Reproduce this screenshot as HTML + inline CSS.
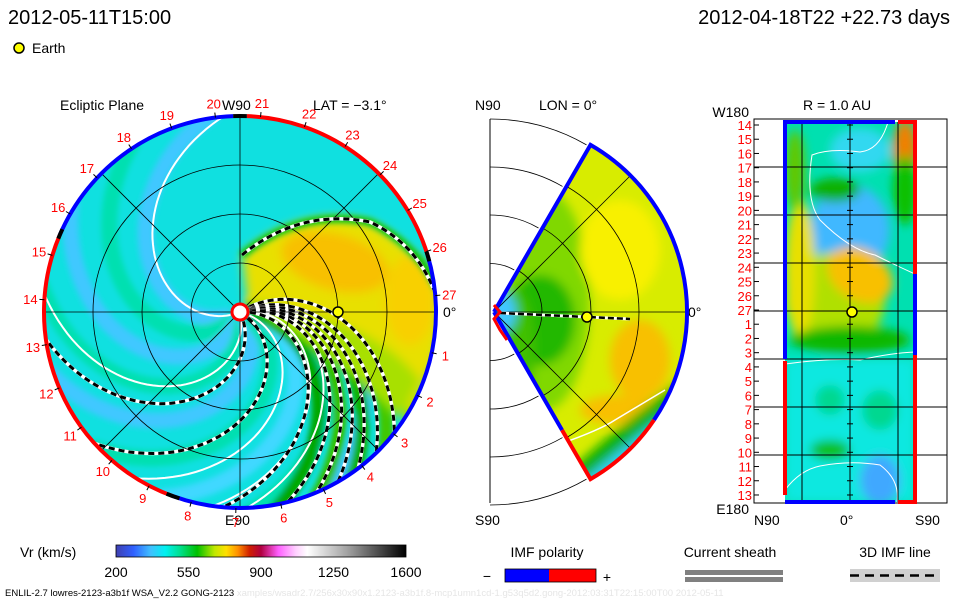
<!DOCTYPE html>
<html><head><meta charset="utf-8"><style>
html,body{margin:0;padding:0;background:#fff;}
svg{display:block;font-family:"Liberation Sans",sans-serif;}
</style></head><body>
<svg id="c" width="960" height="600" viewBox="0 0 960 600">
<defs>
<filter id="bl" x="-20%" y="-20%" width="140%" height="140%"><feGaussianBlur stdDeviation="5"/></filter>
<filter id="bl2" x="-20%" y="-20%" width="140%" height="140%"><feGaussianBlur stdDeviation="3"/></filter>
<clipPath id="disc"><circle cx="240" cy="312" r="196"/></clipPath>
<clipPath id="wedge"><path d="M494,312 L590.5,144.9 A193,193 0 0 1 590.5,479.1 Z"/></clipPath>
<clipPath id="rect"><rect x="785" y="122" width="130" height="380"/></clipPath>
<linearGradient id="cb" x1="0" x2="1" y1="0" y2="0">
<stop offset="0" stop-color="#4040b0"/><stop offset="0.06" stop-color="#3060ff"/><stop offset="0.12" stop-color="#40c0ff"/>
<stop offset="0.17" stop-color="#00f0f0"/><stop offset="0.22" stop-color="#00e090"/><stop offset="0.28" stop-color="#00c000"/>
<stop offset="0.34" stop-color="#c0e800"/><stop offset="0.38" stop-color="#ffe000"/><stop offset="0.42" stop-color="#ff9000"/>
<stop offset="0.46" stop-color="#d02000"/><stop offset="0.5" stop-color="#b00040"/><stop offset="0.56" stop-color="#ff60ff"/>
<stop offset="0.62" stop-color="#ffd0ff"/><stop offset="0.66" stop-color="#ffffff"/><stop offset="0.8" stop-color="#a0a0a0"/>
<stop offset="1" stop-color="#000000"/></linearGradient>
</defs>

<text x="8" y="24" font-size="20">2012-05-11T15:00</text>
<text x="950" y="24" font-size="20" text-anchor="end">2012-04-18T22 +22.73 days</text>
<circle cx="19" cy="48" r="5" fill="#ffff00" stroke="#000" stroke-width="1.5"/>
<text x="32" y="53" font-size="14">Earth</text>

<!-- main panel -->
<g>
<text x="60" y="110" font-size="14">Ecliptic Plane</text>
<text x="222" y="110" font-size="14">W90</text>
<text x="313" y="110" font-size="14">LAT = −3.1°</text>
<text x="225" y="525" font-size="14">E90</text>
<text x="443" y="317" font-size="14">0°</text>
<g clip-path="url(#disc)">
<circle cx="240" cy="312" r="196" fill="#10e0e0"/>
<g id="swirl" filter="url(#bl2)"></g>
<g filter="url(#bl)">
<path d="M248,305 L242,255 Q300,205 370,222 Q415,245 440,290 L440,340 Q432,380 410,410 L330,320 Z" fill="#e8e000"/>
<ellipse cx="335" cy="262" rx="55" ry="28" fill="#f8c000" transform="rotate(15 335 262)"/>
<ellipse cx="410" cy="300" rx="25" ry="45" fill="#f8d000"/>
<path d="M255,300 Q300,310 330,320 Q390,340 420,380 L400,420 Q340,360 270,320 Z" fill="#a8e000"/>
</g>
<path d="M242,255 Q300,208 370,222 Q415,243 438,288" fill="none" stroke="#00c000" stroke-width="7" filter="url(#bl2)"/>
<g id="lines"></g>
</g>
<g id="grid" fill="none" stroke="#000" stroke-width="0.8"></g>
<path d="M242,255 Q300,208 370,222 Q415,243 434,290" fill="none" stroke="#fff" stroke-width="3.5"/>
<path d="M242,255 Q300,208 370,222 Q415,243 434,290" fill="none" stroke="#000" stroke-width="3" stroke-dasharray="6,4"/>
<g id="rim"></g>
<circle cx="240" cy="312" r="8" fill="#fff" stroke="#f00" stroke-width="3"/>
<circle cx="338" cy="312" r="5" fill="#ffff00" stroke="#000" stroke-width="1.5"/>
<g id="days" font-size="13" fill="#f00"></g>
</g>

<!-- middle panel -->
<g>
<text x="475" y="110" font-size="14">N90</text>
<text x="539" y="110" font-size="14">LON = 0°</text>
<text x="475" y="525" font-size="14">S90</text>
<text x="688" y="317" font-size="14">0°</text>
<polyline points="490,119 490,503" stroke="#000" fill="none"/>
<g id="mgrid" fill="none" stroke="#000" stroke-width="0.8"></g>
<g clip-path="url(#wedge)">
<rect x="480" y="130" width="220" height="360" fill="#d8ec00"/>
<g filter="url(#bl)">
<ellipse cx="545" cy="300" rx="45" ry="110" fill="#80d800"/>
<ellipse cx="540" cy="320" rx="35" ry="45" fill="#20b800"/>
<ellipse cx="515" cy="350" rx="20" ry="60" fill="#40c000"/>
<ellipse cx="502" cy="312" rx="14" ry="20" fill="#40c8ff"/>
<ellipse cx="620" cy="250" rx="40" ry="50" fill="#f8f000"/>
<ellipse cx="640" cy="360" rx="30" ry="40" fill="#f8c000"/>
<ellipse cx="620" cy="410" rx="40" ry="15" fill="#f8c000"/>
<path d="M550,490 Q600,440 680,380 L690,500 Z" fill="#10b000"/>
<path d="M560,500 Q610,455 690,395 L690,500 Z" fill="#30d0f0"/>
</g>
<path d="M560,444 Q600,430 615,420 Q640,405 665,390" stroke="#fff" fill="none" stroke-width="1.5"/>
<g fill="none" stroke="#000" stroke-width="0.8">
<path d="M494,312 L690,312"/><path d="M494,312 L630,176"/><path d="M494,312 L630,448"/>
<circle cx="494" cy="312" r="48"/><circle cx="494" cy="312" r="97"/><circle cx="494" cy="312" r="145"/>
</g>
</g>
<path d="M500,313 L587,317 L630,319" stroke="#fff" stroke-width="3" fill="none"/>
<path d="M500,313 L587,317 L630,319" stroke="#000" stroke-width="2.5" stroke-dasharray="6,3" fill="none"/>
<path d="M494,312 L590.5,144.9 A193,193 0 0 1 654,420" fill="none" stroke="#0000ff" stroke-width="4"/>
<path d="M654,420 A193,193 0 0 1 590.5,479.1 L562,430" fill="none" stroke="#ff0000" stroke-width="4"/>
<path d="M562,430 L494,312" fill="none" stroke="#0000ff" stroke-width="4"/>
<path d="M494,305 L500,312 L494,319 L500,330 L507,340" fill="none" stroke="#ff0000" stroke-width="3"/>
<circle cx="587" cy="317" r="5" fill="#ffff00" stroke="#000" stroke-width="1.5"/>
</g>

<!-- right panel -->
<g>
<text x="803" y="110" font-size="14">R = 1.0 AU</text>
<text x="749" y="117" font-size="14" text-anchor="end">W180</text>
<text x="749" y="514" font-size="14" text-anchor="end">E180</text>
<text x="754" y="525" font-size="14">N90</text>
<text x="840" y="525" font-size="14">0°</text>
<text x="915" y="525" font-size="14">S90</text>
<rect x="754" y="119" width="193" height="384" fill="none" stroke="#000"/>
<g clip-path="url(#rect)">
<rect x="785" y="122" width="130" height="380" fill="#00e0b0"/>
<g filter="url(#bl)">
<rect x="785" y="359" width="130" height="143" fill="#10e8e0"/>
<ellipse cx="850" cy="230" rx="40" ry="45" fill="#40b8ff"/>
<ellipse cx="860" cy="150" rx="30" ry="22" fill="#30d8f0"/>
<ellipse cx="835" cy="300" rx="50" ry="48" fill="#b0e000"/>
<ellipse cx="860" cy="275" rx="35" ry="25" fill="#f8c000" transform="rotate(30 860 275)"/>
<ellipse cx="800" cy="270" rx="15" ry="70" fill="#e8e000"/>
<ellipse cx="850" cy="340" rx="60" ry="14" fill="#10b800"/>
<ellipse cx="905" cy="150" rx="12" ry="30" fill="#f08000"/>
<ellipse cx="795" cy="170" rx="10" ry="40" fill="#60c800"/>
<ellipse cx="835" cy="190" rx="25" ry="12" fill="#10b000"/>
<ellipse cx="880" cy="480" rx="20" ry="25" fill="#40a8ff"/>
<ellipse cx="905" cy="190" rx="12" ry="35" fill="#10c000"/>
<ellipse cx="830" cy="450" rx="20" ry="10" fill="#10c000"/>
<ellipse cx="830" cy="400" rx="15" ry="15" fill="#00d890"/>
<ellipse cx="880" cy="410" rx="18" ry="20" fill="#00d890"/>
</g>
<path d="M785,364 Q830,358 860,360 Q890,353 915,352" stroke="#fff" fill="none" stroke-width="1"/>
<path d="M785,490 Q800,470 820,466 Q850,460 880,465 Q900,480 897,502" stroke="#fff" fill="none" stroke-width="1"/>
<path d="M888,122 Q880,150 860,152 Q830,148 812,155 Q805,200 820,220 Q850,250 875,255 Q895,265 915,274" stroke="#fff" fill="none" stroke-width="1"/>
</g>
<g id="rgrid" stroke="#000" stroke-width="1" fill="none"></g>
<g id="rdays" font-size="13" fill="#f00"></g>
<path d="M785,359 L785,122 L895,122" fill="none" stroke="#0000ff" stroke-width="4"/>
<path d="M898,122 L915,122 L915,274" fill="none" stroke="#ff0000" stroke-width="4"/>
<path d="M915,274 L915,355" fill="none" stroke="#0000ff" stroke-width="4"/>
<path d="M915,355 L915,502 L898,502" fill="none" stroke="#ff0000" stroke-width="4"/>
<path d="M895,502 L785,502" fill="none" stroke="#0000ff" stroke-width="4"/>
<path d="M785,361 L785,495" fill="none" stroke="#ff0000" stroke-width="4"/>
<circle cx="852" cy="312" r="5" fill="#ffff00" stroke="#000" stroke-width="1.5"/>
</g>

<!-- legends -->
<g>
<text x="20" y="557" font-size="14">Vr (km/s)</text>
<rect x="116" y="545" width="290" height="12" fill="url(#cb)" stroke="#000" stroke-width="0.8"/>
<g id="cbticks" font-size="14" text-anchor="middle"></g>
</g>
<text x="547" y="557" font-size="14" text-anchor="middle">IMF polarity</text>
<text x="487" y="581" font-size="14" text-anchor="middle">−</text>
<rect x="505" y="569" width="44" height="13" fill="#0000ff"/>
<rect x="549" y="569" width="47" height="13" fill="#ff0000"/>
<rect x="505" y="569" width="91" height="13" fill="none" stroke="#000" stroke-width="0.8"/>
<text x="607" y="582" font-size="14" text-anchor="middle">+</text>
<text x="730" y="557" font-size="14" text-anchor="middle">Current sheath</text>
<rect x="685" y="570" width="98" height="5" fill="#808080"/>
<rect x="685" y="577" width="98" height="5" fill="#808080"/>
<text x="895" y="557" font-size="14" text-anchor="middle">3D IMF line</text>
<rect x="850" y="569" width="90" height="13" fill="#d0d0d0"/>
<line x1="850" y1="575.5" x2="940" y2="575.5" stroke="#000" stroke-width="2.5" stroke-dasharray="9,6"/>
<text x="5" y="596" font-size="9.5">ENLIL-2.7 lowres-2123-a3b1f WSA_V2.2 GONG-2123 <tspan fill="#e6e6e6">xamples/wsadr2.7/256x30x90x1.2123-a3b1f.8-mcp1umn1cd-1.g53q5d2.gong-2012:03:31T22:15:00T00    2012-05-11</tspan></text>
</svg>
<script>
const NS='http://www.w3.org/2000/svg';
const cx=240,cy=312,R=196;
// data arrays
const dayNumbers=[1,2,3,4,5,6,7,8,9,10,11,12,13,14,15,16,17,18,19,20,21,22,23,24,25,26,27];
const dayOneAngle=-12, degPerDay=13.2;
const colorbarTicks=[200,550,900,1250,1600];
const swirlEndAngles=[100,125,150,175,200,225,250,275,300];
const swirlColors=['#40c8ff','#00e0b0','#40c8ff','#00e0b0','#40c8ff','#00e0b0','#40d8ff','#00e0b0','#40c8ff'];
const greenEndAngles=[-30,-42,-54,-66,-78];
const greenColors=['#a0e000','#40c800','#10b000','#30c000','#00a800'];
const whiteEndAngles=[95,175,238,262,-88];
const dashEndAngles=[-38,-46,-53,-60,-67,-76,-95,222,188];
const dashCurl=[0.36,0.36,0.38,0.4,0.42,0.45,0.5,0.55,0.55];
const rimSegments=[[92,157,'#0000ff'],[157,250,'#ff0000'],[250,377,'#0000ff'],[17,88,'#ff0000']];
const rimBlack=[[88,92],[155,158],[248,252],[15,18]];
const latGridLines=[802,850,898];

function mk(t,a,p){const e=document.createElementNS(NS,t);for(const k in a)e.setAttribute(k,a[k]);(p||document.getElementById('c')).appendChild(e);return e;}
function rad(d){return d*Math.PI/180;}
function pt(r,deg){return [cx+r*Math.cos(rad(deg)),cy-r*Math.sin(rad(deg))];}
function spiral(endDeg,k){let s='';for(let r=10;r<=205;r+=4){const th=endDeg+k*(196-r);const p=pt(r,th);s+=(r===10?'M':'L')+p[0].toFixed(1)+','+p[1].toFixed(1);}return s;}

const sw=document.getElementById('swirl');
swirlEndAngles.forEach((a,i)=>{const e=mk('path',{d:spiral(a,0.55),fill:'none',stroke:swirlColors[i],'stroke-width':16},sw);

});
greenEndAngles.forEach((a,i)=>{const e=mk('path',{d:spiral(a,0.38),fill:'none',stroke:greenColors[i],'stroke-width':14},sw);

});

const ln=document.getElementById('lines');
whiteEndAngles.forEach(a=>{const e=mk('path',{d:spiral(a,0.55),fill:'none',stroke:'#fff','stroke-width':2},ln);

});
dashEndAngles.forEach((a,i)=>{const d=spiral(a,dashCurl[i]);
mk('path',{d:d,fill:'none',stroke:'#fff','stroke-width':3.5},ln);
const e=mk('path',{d:d,fill:'none',stroke:'#000','stroke-width':3,'stroke-dasharray':'6,4'},ln);

});

const g=document.getElementById('grid');
[49,98,147].forEach(r=>mk('circle',{cx:cx,cy:cy,r:r},g));
[0,45,90,135].forEach(a=>{const p1=pt(R,a),p2=pt(R,a+180);mk('line',{x1:p1[0],y1:p1[1],x2:p2[0],y2:p2[1]},g);});

const rim=document.getElementById('rim');
function arc(a1,a2){const p1=pt(R,a1),p2=pt(R,a2);const large=(a2-a1)>180?1:0;return `M${p1[0]},${p1[1]} A${R},${R} 0 ${large} 0 ${p2[0]},${p2[1]}`;}
rimSegments.forEach(s=>{const e=mk('path',{d:arc(s[0],s[1]),fill:'none',stroke:s[2],'stroke-width':4},rim);

});
rimBlack.forEach(s=>mk('path',{d:arc(s[0],s[1]),fill:'none',stroke:'#000','stroke-width':4},rim));

const dg=document.getElementById('days');
dayNumbers.forEach(d=>{const a=dayOneAngle-(d-1)*degPerDay;const p1=pt(R,a),p2=pt(R+5,a);
mk('line',{x1:p1[0],y1:p1[1],x2:p2[0],y2:p2[1],stroke:'#000'},dg);
const p=pt(R+14,a);const t=mk('text',{x:p[0].toFixed(1),y:(p[1]+5).toFixed(1),'text-anchor':'middle'},dg);t.textContent=d;

});

const mg=document.getElementById('mgrid');
[48.5,97,145,193].forEach(r=>{mk('path',{d:`M490,${312-r} A${r},${r} 0 0 1 ${490+r*0.5},${312-r*0.866}`},mg);mk('path',{d:`M490,${312+r} A${r},${r} 0 0 0 ${490+r*0.5},${312+r*0.866}`},mg);});

const rg=document.getElementById('rgrid');
for(let i=1;i<8;i++){const y=119+i*48;mk('line',{x1:754,y1:y,x2:947,y2:y},rg);}
latGridLines.forEach(x=>mk('line',{x1:x,y1:122,x2:x,y2:502},rg));
const rd=document.getElementById('rdays');
const order=[14,15,16,17,18,19,20,21,22,23,24,25,26,27,1,2,3,4,5,6,7,8,9,10,11,12,13];
order.forEach((d,i)=>{const y=125+i*14.23;mk('line',{x1:754,y1:y,x2:759,y2:y,stroke:'#000'},rd);mk('line',{x1:847,y1:y,x2:853,y2:y,stroke:'#000'},rd);
const t=mk('text',{x:752,y:(y+5).toFixed(1),'text-anchor':'end'},rd);t.textContent=d;

});

const cb=document.getElementById('cbticks');
colorbarTicks.forEach(v=>{const x=116+(v-200)/(1600-200)*290;const t=mk('text',{x:x,y:577},cb);t.textContent=v;

});
</script>
</body></html>
